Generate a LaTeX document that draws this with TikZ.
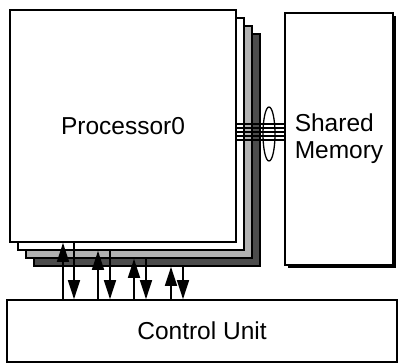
\documentclass[tikz,border=0pt]{standalone}
\usepackage{fontspec}
\setmainfont{Liberation Sans}
\usetikzlibrary{arrows.meta,shapes.geometric,shadows}

\def\boxfont{\fontsize{24.5pt}{27pt}\selectfont}

\begin{document}
\begin{tikzpicture}[x=1pt,y=-1pt,line width=1.7pt,>={Triangle[length=19pt,width=12pt]}]
  \tikzstyle{layer}=[draw,rectangle,minimum width=226pt,minimum height=232pt,inner sep=0pt]
  \tikzstyle{memory box}=[draw,fill=white,minimum width=108pt,minimum height=252pt,
                          align=left,inner sep=0pt,
                          drop shadow={shadow xshift=3pt,shadow yshift=-3pt,fill=black,opacity=1}]
  \tikzstyle{unit box}=[draw,fill=white,minimum width=390pt,minimum height=62pt,inner sep=0pt]
  \tikzstyle{wire}=[line width=1.3pt]

  \useasboundingbox (0,0) rectangle (399,364);

  % Draw the processor layers, back to front
  \foreach \i/\shade in {3/black!70,2/black!30,1/white}
      \node[layer,fill=\shade] (P-\i) at (123+8*\i,126+8*\i) {};
  \node[layer,fill=white,font=\boxfont] (P-0) at (123,126) {Processor0};

  % Shared memory and control unit
  \node[memory box,font=\boxfont] (M) at (339,139) {Shared\\Memory};
  \node[unit box,font=\boxfont] (C) at (202,331) {Control Unit};

  % Bus from the processors to the shared memory
  \coordinate (bus) at (0,132);
  \foreach \dy in {-8,-4,0,4,8}
      \draw[wire] ([yshift=\dy pt]P-0.east |- bus) -- ([yshift=\dy pt]M.west |- bus);
  \node[draw,ellipse,minimum width=12pt,minimum height=54pt,inner sep=0pt,wire] (bundle) at (269,134) {};

  % Connect the control unit with every processor
  \foreach \i/\xu/\xd in {0/63/74,1/98/110,2/134/146,3/171/183}{
      \coordinate (u-\i) at (\xu,0);
      \coordinate (d-\i) at (\xd,0);
      \draw[->] (C.north -| u-\i) -- (P-\i.south -| u-\i);
      \draw[->] (P-\i.south -| d-\i) -- (C.north -| d-\i);
  }
\end{tikzpicture}
\end{document}
